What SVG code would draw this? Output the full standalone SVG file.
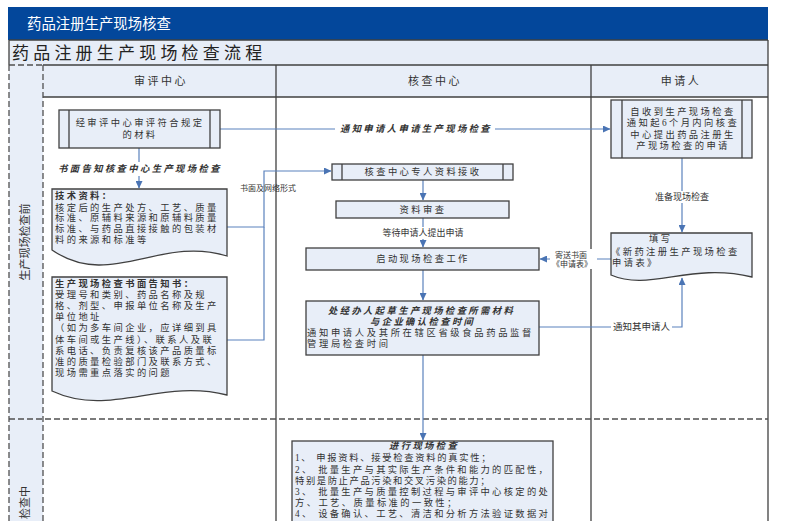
<svg xmlns="http://www.w3.org/2000/svg" width="800" height="521" viewBox="0 0 800 521">
<defs>
<style>
text{font-family:"Liberation Serif","Noto Sans CJK SC",serif;fill:#333;}
.sans{font-family:"Liberation Sans","Noto Sans CJK SC",sans-serif;}
.node{fill:#e8eef8;stroke:#404040;stroke-width:1.3;}
.bar{stroke:#404040;stroke-width:1.3;}
.conn{fill:none;stroke:#5b82bd;stroke-width:1.2;}
.grid{stroke:#404040;stroke-width:1.3;fill:none;}
.dash{stroke:#505050;stroke-width:1.3;stroke-dasharray:6 3;fill:none;}
.t{font-size:9.3px;letter-spacing:2.4px;dominant-baseline:central;}
.c{text-anchor:middle;}
.ib{font-style:italic;font-weight:bold;}
.b{font-weight:bold;}
.n{font-style:normal;font-weight:normal;}
.lab{font-size:9px;dominant-baseline:central;}
.bg{fill:#fff;}
.hd{font-size:11px;letter-spacing:2.5px;text-anchor:middle;dominant-baseline:central;}
</style>
<marker id="ah" markerUnits="userSpaceOnUse" markerWidth="8" markerHeight="7" refX="7" refY="3.5" orient="auto">
<path d="M0,0 L7.5,3.5 L0,7 z" fill="#4a74b4"/>
</marker>
</defs>
<rect width="800" height="521" fill="#fff"/>
<g id="frame">
<rect x="8" y="7" width="760" height="33" fill="#03479b"/>
<text class="sans" x="27" y="24" font-size="14.4" style="fill:#fff;dominant-baseline:central;">药品注册生产现场核查</text>
<rect x="9" y="40" width="759" height="25" fill="#e7edf7"/>
<line class="grid" x1="9" y1="40" x2="768" y2="40"/>
<line class="grid" x1="9" y1="40" x2="9" y2="65"/>
<text x="12" y="53" font-size="17" letter-spacing="4.2" style="fill:#222;dominant-baseline:central;">药品注册生产现场检查流程</text>
<rect x="9" y="65" width="34" height="456" fill="#e8eef8"/>
<rect x="43" y="65" width="725" height="32" fill="#e8eef8"/>
<line class="grid" x1="43" y1="65" x2="768" y2="65"/>
<line class="dash" x1="9" y1="65" x2="43" y2="65"/>
<line class="grid" x1="43" y1="97" x2="768" y2="97"/>
<line class="dash" x1="9" y1="65" x2="9" y2="521"/>
<line class="dash" x1="43" y1="65" x2="43" y2="521"/>
<line class="grid" x1="276" y1="65" x2="276" y2="521"/>
<line class="grid" x1="591" y1="65" x2="591" y2="521"/>
<line class="grid" x1="768" y1="40" x2="768" y2="521"/>
<line class="dash" x1="9" y1="419" x2="768" y2="419"/>
<text class="hd" x="161" y="81">审评中心</text>
<text class="hd" x="435" y="81">核查中心</text>
<text class="hd" x="681" y="81">申请人</text>
<text transform="translate(25,242) rotate(-90)" font-size="11" text-anchor="middle" style="dominant-baseline:central;">生产现场检查前</text>
<text transform="translate(25,519) rotate(-90)" font-size="11" style="dominant-baseline:central;">检查中</text>
</g>
<g id="connectors">
<path class="conn" d="M220,129 H610" marker-end="url(#ah)"/>
<rect class="bg" x="335" y="122" width="160" height="14"/>
<text class="t ib c" x="416" y="129">通知申请人申请生产现场检查</text>
<path class="conn" d="M139,148 V188" marker-end="url(#ah)"/>
<rect class="bg" x="56" y="162" width="168" height="14"/>
<text class="t ib c" x="140" y="169">书面告知核查中心生产现场检查</text>
<path class="conn" d="M227,227 H264 V171 H331" marker-end="url(#ah)"/>
<path class="conn" d="M227,340 H264 V227"/>
<text x="240" y="188" font-size="8" style="dominant-baseline:central;">书面及网络形式</text>
<path class="conn" d="M423,180 V200" marker-end="url(#ah)"/>
<path class="conn" d="M423,218 V247" marker-end="url(#ah)"/>
<rect class="bg" x="380" y="227" width="86" height="12"/>
<text class="lab c" x="423" y="233">等待申请人提出申请</text>
<path class="conn" d="M423,270 V300" marker-end="url(#ah)"/>
<path class="conn" d="M423,355 V440" marker-end="url(#ah)"/>
<path class="conn" d="M682,158 V232" marker-end="url(#ah)"/>
<rect class="bg" x="651" y="191" width="62" height="12"/>
<text class="lab c" x="682" y="197">准备现场检查</text>
<path class="conn" d="M611,259 H540" marker-end="url(#ah)"/>
<rect class="bg" x="550" y="249" width="47" height="20"/>
<text font-size="8" style="dominant-baseline:central;"><tspan x="555" y="255">寄送书面</tspan><tspan x="552" y="264">《申请表》</tspan></text>
<path class="conn" d="M539,327 H682 V278" marker-end="url(#ah)"/>
<rect class="bg" x="611" y="321" width="61" height="12"/>
<text x="613" y="327" font-size="9.5" style="dominant-baseline:central;">通知其申请人</text>
</g>
<g id="n-review-material">
<rect class="node" x="59" y="110" width="161" height="38"/>
<line class="bar" x1="69" y1="110" x2="69" y2="148"/>
<line class="bar" x1="210" y1="110" x2="210" y2="148"/>
<text class="t c"><tspan x="140" y="123">经审评中心审评符合规定</tspan><tspan x="140" y="135">的材料</tspan></text>
</g>
<g id="n-tech-doc">
<path class="node" d="M52,189 H227 V256 C160,235 110,290 52,250 Z"/>
<text class="t"><tspan class="b" x="55" y="196">技术资料：</tspan><tspan x="55" y="207.5">核定后的生产处方、工艺、质量</tspan><tspan x="55" y="218.2">标准、原辅料来源和原辅料质量</tspan><tspan x="55" y="228.9">标准、与药品直接接触的包装材</tspan><tspan x="55" y="239.6">料的来源和标准等</tspan></text>
</g>
<g id="n-notice-doc">
<path class="node" d="M52,277 H227 V395 C160,378 110,418 52,391 Z"/>
<text class="t"><tspan class="b" x="55" y="284">生产现场检查书面告知书：</tspan><tspan x="55" y="295.1">受理号和类别、药品名称及规</tspan><tspan x="55" y="306.2">格、剂型、申报单位名称及生产</tspan><tspan x="55" y="317.3">单位地址</tspan><tspan x="55" y="328.4">（如为多车间企业，应详细到具</tspan><tspan x="55" y="339.5">体车间或生产线）、联系人及联</tspan><tspan x="55" y="350.6">系电话、负责复核该产品质量标</tspan><tspan x="55" y="361.7">准的质量检验部门及联系方式、</tspan><tspan x="55" y="372.8">现场需重点落实的问题</tspan></text>
</g>
<g id="n-applicant-request">
<rect class="node" x="611" y="100" width="141" height="58"/>
<line class="bar" x1="622" y1="100" x2="622" y2="158"/>
<line class="bar" x1="742" y1="100" x2="742" y2="158"/>
<text class="t c"><tspan x="683" y="112">自收到生产现场检查</tspan><tspan x="683" y="123.3">通知起6个月内向核查</tspan><tspan x="683" y="134.5">中心提出药品注册生</tspan><tspan x="683" y="145.7">产现场检查的申请</tspan></text>
</g>
<g id="n-fill-form">
<path class="node" d="M611,233 H752 V277 C690,262 650,292 611,275 Z"/>
<text class="t"><tspan x="649" y="239">填写</tspan><tspan x="611" y="252">《新药注册生产现场检查</tspan><tspan x="612" y="263">申请表》</tspan></text>
</g>
<g id="n-receive">
<rect class="node" x="332" y="164" width="181" height="16"/>
<line class="bar" x1="342" y1="164" x2="342" y2="180"/>
<line class="bar" x1="503" y1="164" x2="503" y2="180"/>
<text class="t c" x="423" y="172">核查中心专人资料接收</text>
</g>
<g id="n-review">
<rect class="node" x="336" y="201" width="173" height="17"/>
<text class="t c" x="423" y="209.5">资料审查</text>
</g>
<g id="n-start">
<rect class="node" x="306" y="248" width="233" height="22"/>
<text class="t c" x="423" y="259">启动现场检查工作</text>
</g>
<g id="n-draft">
<rect class="node" x="306" y="301" width="233" height="54"/>
<text class="t ib" letter-spacing="2.7"><tspan x="328" y="311">处经办人起草生产现场检查所需材料</tspan><tspan x="370" y="322">与企业确认检查时间</tspan><tspan class="n" x="307" y="333" letter-spacing="2.65">通知申请人及其所在辖区省级食品药品监督</tspan><tspan class="n" x="307" y="343.5" letter-spacing="2.65">管理局检查时间</tspan></text>
</g>
<g id="n-inspect">
<rect class="node" x="292" y="441" width="261" height="95"/>
<text class="t" letter-spacing="0"><tspan class="ib" x="389" y="446" letter-spacing="2.4">进行现场检查</tspan><tspan x="295" y="458" letter-spacing="1.7">1、 申报资料、接受检查资料的真实性；</tspan><tspan x="295" y="469.5" letter-spacing="2.3">2、 批量生产与其实际生产条件和能力的匹配性，</tspan><tspan x="295" y="481" letter-spacing="1.6">特别是防止产品污染和交叉污染的能力；</tspan><tspan x="295" y="491.5" letter-spacing="2.3">3、 批量生产与质量控制过程与审评中心核定的处</tspan><tspan x="295" y="502.5" letter-spacing="2.4">方、工艺、质量标准的一致性；</tspan><tspan x="295" y="513.5" letter-spacing="2.3">4、 设备确认、工艺、清洁和分析方法验证数据对</tspan></text>
</g>
</svg>
